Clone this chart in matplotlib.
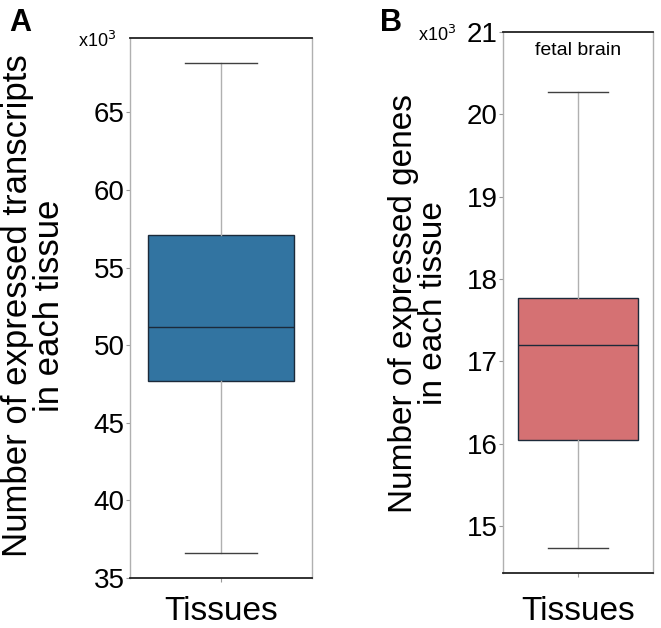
import matplotlib
matplotlib.use("Agg")
import matplotlib.pyplot as plt

# Data (values in thousands)
categories = ["Tissues"]
transcripts_stats = dict(whislo=36.6, q1=47.7, med=51.2, q3=57.1, whishi=68.2)
genes_stats = dict(whislo=14.73, q1=16.05, med=17.2, q3=17.77, whishi=20.27)
a_ticks = [35, 40, 45, 50, 55, 60, 65]
b_ticks = [15, 16, 17, 18, 19, 20, 21]
a_color = "#3274A1"
b_color = "#D57173"

fam = ["Liberation Sans", "DejaVu Sans"]

fig = plt.figure(figsize=(6.61, 6.28), dpi=100)
axA = fig.add_axes([0.1967, 0.0796, 0.2753, 0.86])
axB = fig.add_axes([0.761, 0.0876, 0.227, 0.8615])


def draw(ax, stats, color, ticks, ylim, ylabel, ylab_size, ylab_xy, xlab_y):
    st = dict(stats)
    st["label"] = ""
    ax.bxp([st], positions=[0], widths=0.8, patch_artist=True, showfliers=False,
           boxprops=dict(facecolor=color, edgecolor="#1c2a3a", linewidth=1.0),
           medianprops=dict(color="#1c2a3a", linewidth=1.0),
           whiskerprops=dict(color="#b0b0b0", linewidth=1.0),
           capprops=dict(color="#404040", linewidth=1.0),
           capwidths=0.4)
    ax.set_xlim(-0.5, 0.5)
    ax.set_ylim(*ylim)
    ax.set_yticks(ticks)
    ax.set_yticklabels([str(t) for t in ticks], fontsize=20, family=fam)
    ax.set_xticks([0])
    ax.set_xticklabels([])
    ax.set_xlabel(categories[0], fontsize=24, family=fam, va="baseline")
    ax.xaxis.set_label_coords(0.5, xlab_y)
    ax.set_ylabel(ylabel, fontsize=ylab_size, family=fam, linespacing=0.95, va="center")
    ax.yaxis.set_label_coords(*ylab_xy)
    ax.tick_params(axis="both", length=3, color="#999999", pad=1)
    for s in ("left", "right"):
        ax.spines[s].set_color("#b0b0b0")
        ax.spines[s].set_linewidth(1.0)
    for s in ("top", "bottom"):
        ax.spines[s].set_color("#222222")
        ax.spines[s].set_linewidth(1.3)


draw(axA, transcripts_stats, a_color, a_ticks, (35, 69.8),
     "Number of expressed transcripts\nin each tissue", 25, (-0.53, 0.504), -0.078)
draw(axB, genes_stats, b_color, b_ticks, (14.43, 21),
     "Number of expressed genes\nin each tissue", 24, (-0.565, 0.499), -0.087)

axB.text(0.5, 0.982, "fetal brain", transform=axB.transAxes, ha="center", va="top",
         fontsize=14, family=fam)

fig.text(9 / 661, 1 - 23 / 628, "A", fontsize=22, fontweight="bold", family=fam,
         ha="left", va="center")
fig.text(380 / 661, 1 - 23 / 628, "B", fontsize=22, fontweight="bold", family=fam,
         ha="left", va="center")
fig.text(78 / 661, 1 - 41 / 628, "x10$^3$", fontsize=13, family=fam, ha="left", va="center")
fig.text(418 / 661, 1 - 35 / 628, "x10$^3$", fontsize=13, family=fam, ha="left", va="center")

fig.savefig("out.png", dpi=100, facecolor="white")
